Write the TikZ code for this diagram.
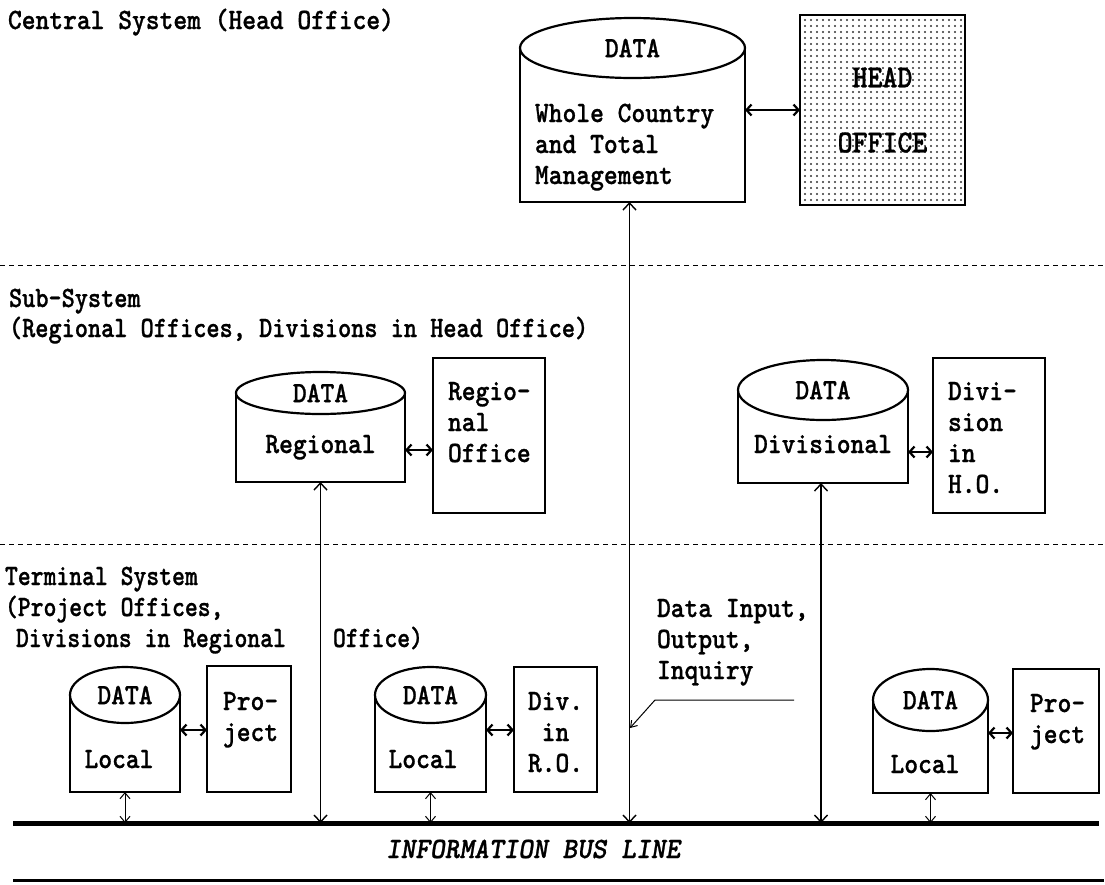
\documentclass[tikz,border=0pt]{standalone}
\usepackage{fontspec}
\newfontfamily\mono{lmmonolt10-bold.otf}[FakeStretch=0.89,FakeBold=0.9]
\newfontfamily\monoS{lmmonolt10-bold.otf}[FakeStretch=0.85,FakeBold=0.9]
\newfontfamily\monoN{lmmonolt10-bold.otf}[FakeStretch=0.83,FakeBold=0.9]
\newfontfamily\monoI{lmmonolt10-boldoblique.otf}[FakeStretch=0.95,FakeBold=0.9]
\usetikzlibrary{arrows.meta,shapes.geometric}
\newcommand\firstline{\rule{0pt}{23pt}}
\tikzset{
  fnt/.style={font=\mono\fontsize{29.5}{31}\selectfont},
  body/.style={draw, line width=2.2pt, fill=white, rectangle, inner sep=0pt, outer sep=0pt, anchor=north west},
  lid/.style={draw, line width=2.2pt, fill=white, ellipse, inner sep=0pt, outer sep=0pt, fnt},
  office/.style={draw, line width=2.2pt, rectangle, inner sep=0pt, outer sep=0pt, anchor=north west},
  txt/.style={inner sep=0pt, outer sep=0pt, fnt},
  block/.style={txt, anchor=north west, align=left, yshift=23pt},
  cblock/.style={txt, anchor=north, align=center, yshift=23pt},
  busline/.style={line width=5pt},
  link/.style={line width=1.3pt, {Straight Barb[length=7pt,width=13pt,line width=1.4pt]}-{Straight Barb[length=7pt,width=13pt,line width=1.4pt]}},
  pair/.style={line width=2.6pt, {Straight Barb[length=5pt,width=11pt,line width=2.2pt]}-{Straight Barb[length=5pt,width=11pt,line width=2.2pt]}},
  tap/.style={line width=1pt, {Straight Barb[length=6pt,width=10pt]}-{Straight Barb[length=6pt,width=10pt]}},
  leader/.style={line width=1pt, -{Straight Barb[length=6pt,width=8pt]}},
  sep/.style={line width=1pt, dash pattern=on 5pt off 4pt},
}
\begin{document}
\begin{tikzpicture}[x=1pt,y=-1pt]
\useasboundingbox (0,0) rectangle (1105,884);

% ---------- separators ----------
\coordinate (s1L) at (0,265);   \coordinate (s1R) at (1105,265);
\coordinate (s2L) at (0,544);   \coordinate (s2R) at (1105,544);
\draw[sep] (s1L) -- (s1R);
\draw[sep] (s2L) -- (s2R);

% ---------- bus ----------
\coordinate (busL) at (13,823);  \coordinate (busR) at (1099,823);
\coordinate (bus2L) at (13,880); \coordinate (bus2R) at (1104,880);
\draw[busline] (busL) -- (busR);
\draw[line width=3pt] (bus2L) -- (bus2R);
\node[inner sep=0pt, font=\monoI\fontsize{29.5}{31}\selectfont, anchor=base] (busT) at (533,858) {INFORMATION BUS LINE};

% ---------- headers ----------
\node[txt, anchor=base west] (hdrC) at (8,29) {Central System (Head Office)};
\node[block, font=\monoS\fontsize{29.5}{30}\selectfont] (hdrS) at (9,307) {\firstline Sub-System\\(Regional Offices, Divisions in Head Office)};
\node[block, font=\monoN\fontsize{29.5}{31}\selectfont] (hdrT) at (5,585) {\firstline Terminal System\\(Project Offices,\\\hspace*{11pt}Divisions in Regional};
\node[txt, anchor=base west, font=\monoN\fontsize{29.5}{31}\selectfont] (hdrT2) at (333,647) {Office)};

% ---------- central ----------
\node[body, minimum width=225pt, minimum height=154pt] (T) at (520,48) {};
\node[lid, minimum width=225pt, minimum height=60pt] (Tl) at (632.5,48) {DATA};
\node[block] (Tt) at (535,122) {\firstline Whole Country\\and Total\\Management};
\foreach \i in {0,...,26}{
  \foreach \j in {0,...,30}{
    \fill[black!80] (805+\i*6,20+\j*6) circle[radius=1.05pt];
  }
}
\node[office, minimum width=165pt, minimum height=190pt, align=center, font=\mono\fontsize{32}{65}\selectfont] (HO) at (800,15) {HEAD\\OFFICE};
\draw[pair] ([yshift=15pt]T.east) -- ([yshift=15pt]T.east -| HO.west);

% ---------- regional ----------
\node[body, minimum width=169pt, minimum height=89pt] (R) at (236,393) {};
\node[lid, minimum width=169pt, minimum height=42pt] (Rl) at (320.5,393) {DATA};
\node[txt, anchor=base] (Rt) at (320.5,453) {Regional};
\node[office, minimum width=112pt, minimum height=155pt] (RO) at (433,358) {};
\node[block] (ROt) at (448,400) {\firstline Regio-\\nal\\Office};
\draw[pair] ([yshift=-12.5pt]R.east) -- ([yshift=-12.5pt]R.east -| RO.west);

% ---------- divisional ----------
\node[body, minimum width=170pt, minimum height=93pt] (D) at (738,390) {};
\node[lid, minimum width=170pt, minimum height=60pt] (Dl) at (823,390) {DATA};
\node[txt, anchor=base] (Dt) at (823,453) {Divisional};
\node[office, minimum width=112pt, minimum height=155pt] (DH) at (933,358) {};
\node[block] (DHt) at (948,400) {\firstline Divi-\\sion\\in\\H.O.};
\draw[pair] ([yshift=-15.5pt]D.east) -- ([yshift=-15.5pt]D.east -| DH.west);

% ---------- terminal 1 ----------
\node[body, minimum width=110pt, minimum height=97pt] (L1) at (70,695) {};
\node[lid, minimum width=110pt, minimum height=56pt] (L1l) at (125,695) {DATA};
\node[txt, anchor=base] (L1t) at (119,768) {Local};
\node[office, minimum width=84pt, minimum height=126pt] (P1) at (207,666) {};
\node[block] (P1t) at (223,710) {\firstline Pro-\\ject};
\draw[pair] ([yshift=13.5pt]L1.east) -- ([yshift=13.5pt]L1.east -| P1.west);

% ---------- terminal 2 ----------
\node[body, minimum width=111pt, minimum height=97pt] (L2) at (375,695) {};
\node[lid, minimum width=111pt, minimum height=56pt] (L2l) at (430.5,695) {DATA};
\node[txt, anchor=base] (L2t) at (423,768) {Local};
\node[office, minimum width=83pt, minimum height=125pt] (DR) at (514,667) {};
\node[cblock] (DRt) at (555.5,710) {\firstline Div.\\in\\R.O.};
\draw[pair] ([yshift=13.5pt]L2.east) -- ([yshift=13.5pt]L2.east -| DR.west);

% ---------- terminal 3 ----------
\node[body, minimum width=115pt, minimum height=93pt] (L3) at (873,700) {};
\node[lid, minimum width=115pt, minimum height=62pt] (L3l) at (930.5,700) {DATA};
\node[txt, anchor=base] (L3t) at (925,773) {Local};
\node[office, minimum width=86pt, minimum height=124pt] (P3) at (1013,669) {};
\node[block] (P3t) at (1030,712) {\firstline Pro-\\ject};
\draw[pair] ([yshift=13.5pt]L3.east) -- ([yshift=13.5pt]L3.east -| P3.west);

% ---------- links to bus ----------
\draw[link] ([xshift=-3pt]T.south) -- ([xshift=-3pt]T.south |- busL);
\draw[link] (R.south) -- (R.south |- busL);
\draw[link] ([xshift=-2pt]D.south) -- ([xshift=-2pt]D.south |- busL);
\draw[tap] (L1.south) -- (L1.south |- busL);
\draw[tap] (L2.south) -- (L2.south |- busL);
\draw[tap] (L3.south) -- (L3.south |- busL);

% ---------- data input label ----------
\node[block] (DI) at (657,617) {\firstline Data Input,\\Output,\\Inquiry};
\coordinate (ldA) at (794,700);
\coordinate (ldB) at (655,700);
\coordinate (ldC) at (630,728);
\draw[leader] (ldA) -- (ldB) -- (ldC);
\end{tikzpicture}
\end{document}
